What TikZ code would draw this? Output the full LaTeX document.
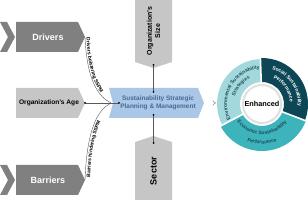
\documentclass[tikz,border=0pt]{standalone}
\usepackage{fontspec}
\setmainfont{Liberation Sans}
\usetikzlibrary{decorations.text,arrows.meta}
\definecolor{dgray}{HTML}{808080}
\definecolor{lgray}{HTML}{C6C6C6}
\definecolor{bfill}{HTML}{ABC7E8}
\definecolor{btext}{HTML}{4A6A94}
\definecolor{tlight}{HTML}{A3D8DD}
\definecolor{tdark}{HTML}{0D4755}
\definecolor{tmed}{HTML}{3DB3BB}
\definecolor{ttext}{HTML}{1F4E5A}
\begin{document}
\begin{tikzpicture}[x=1pt,y=-1pt,
  conn/.style={draw=black!65,line width=0.4pt},
  dotc/.style={fill=black},
  whitelbl/.style={text=white,font=\fontsize{9}{10}\selectfont\bfseries},
  agelbl/.style={text=black,font=\fontsize{6.6}{7.5}\selectfont\bfseries},
  vlbl/.style={text=black,rotate=90,align=center},
  bluelbl/.style={text=btext,align=center,font=\fontsize{6.5}{7.7}\selectfont\bfseries},
  gap/.style={white,line width=1.6pt},
  ]
\useasboundingbox (0,0) rectangle (308,200);
% ---------- Drivers
\fill[dgray] (0,22) -- (7,22) -- (15,37) -- (7,52) -- (0,52) -- (8,37) -- cycle;
\fill[dgray] (16,22) -- (78,22) -- (85,37) -- (78,52) -- (16,52) -- cycle;
\node[whitelbl] (drivers) at (48,37) {Drivers};
\coordinate (drvtip) at (85,37);
% ---------- Barriers
\fill[dgray] (0,165) -- (7,165) -- (15,180) -- (7,195) -- (0,195) -- (8,180) -- cycle;
\fill[dgray] (16,165) -- (78,165) -- (85,180) -- (78,195) -- (16,195) -- cycle;
\node[whitelbl] (barriers) at (48,180) {Barriers};
\coordinate (bartip) at (85,180);
% ---------- Organization's Age
\fill[lgray] (16,88) -- (78,88) -- (85,103) -- (78,118) -- (16,118) -- cycle;
\node[agelbl] (age) at (49,103) {Organization's Age};
\coordinate (agedot) at (85,103);
% ---------- Size
\fill[lgray] (135,-1) -- (172,-1) -- (172,62) -- (153.5,68) -- (135,62) -- cycle;
\node[vlbl,font=\fontsize{7}{8.2}\selectfont\bfseries] (size) at (153.5,31) {Organization's\\Size};
\coordinate (sizedot) at (153.5,65);
% ---------- Sector
\fill[lgray] (135,201) -- (135,142) -- (153.5,136) -- (172,142) -- (172,201) -- cycle;
\node[vlbl,font=\fontsize{9}{10}\selectfont\bfseries] (sector) at (153.5,171) {Sector};
\coordinate (sectordot) at (153.5,143);
% ---------- Blue box
\fill[bfill] (109,88) -- (198,88) -- (204,103) -- (198,118) -- (109,118) -- (113,103) -- cycle;
\node[bluelbl] (sspm) at (158,103) {Sustainability Strategic\\Planning \& Management};
\coordinate (meet) at (111,103);
\coordinate (bleft) at (119,103);
\coordinate (btop) at (153.5,92);
\coordinate (bbot) at (153.5,115);
\coordinate (arrs) at (205,103);
\coordinate (arre) at (216,103);
% ---------- connectors
\draw[conn] (agedot) -- (bleft);
\draw[conn] (sizedot) -- (btop);
\draw[conn] (bbot) -- (sectordot);
\draw[conn] (drvtip) .. controls (87,82) and (99,97) .. (meet);
\draw[conn] (bartip) .. controls (87,126) and (99,109) .. (meet);
\path[decorate,decoration={text along path,text align={align=left,left indent=1pt},raise=1.5pt,
  text={|\fontsize{5}{5}\selectfont\bfseries|Drivers bolstering SSPM}}]
  (drvtip) .. controls (87,82) and (99,97) .. (meet);
\path[decorate,decoration={text along path,text align={align=left,left indent=3pt},raise=-5pt,
  text={|\fontsize{5}{5}\selectfont\bfseries|Barriers hindering SSPM}}]
  (bartip) .. controls (87,126) and (99,109) .. (meet);
\foreach \p in {agedot,bleft,sizedot,btop,bbot,sectordot}
  \fill[dotc] (\p) circle[radius=1pt];
\draw[black!45,double,double distance=1.3pt,line width=0.5pt,-{Implies}] (arrs) -- (arre);
% ---------- Ring
\begin{scope}[shift={(262,104)},y=1pt]
  \fill[tlight] (92:45) arc[start angle=92,end angle=208,radius=45] -- (208:22) arc[start angle=208,end angle=92,radius=22] -- cycle;
  \fill[tdark] (-21:46) arc[start angle=-21,end angle=92,radius=46] -- (92:22) arc[start angle=92,end angle=-21,radius=22] -- cycle;
  \fill[tmed] (208:47) arc[start angle=208,end angle=339,radius=47] -- (339:22) arc[start angle=339,end angle=208,radius=22] -- cycle;
  \draw[gap] (92:19) -- (92:50);
  \draw[gap] (208:19) -- (208:50);
  \draw[gap] (-21:19) -- (-21:50);
  \draw[fill=white,draw=black!12,line width=2pt] (0,0) circle[radius=19];
  \node[font=\fontsize{7.3}{8}\selectfont\bfseries] (enh) at (0,0) {Enhanced};
  % light segment text
  \path[decorate,decoration={text along path,text align=center,text color=ttext,
    text={|\fontsize{5}{5}\selectfont\bfseries|Environmental Sustainability}}]
    (220:35) arc[start angle=220,end angle=80,radius=35];
  \path[decorate,decoration={text along path,text align=center,text color=ttext,
    text={|\fontsize{5}{5}\selectfont\bfseries|Strategies}}]
    (200:28) arc[start angle=200,end angle=80,radius=28];
  % dark segment text
  \path[decorate,decoration={text along path,text align=center,text color=white,
    text={|\fontsize{5}{5}\selectfont\bfseries|Social Sustainability}}]
    (95:36) arc[start angle=95,end angle=-25,radius=36];
  \path[decorate,decoration={text along path,text align=center,text color=white,
    text={|\fontsize{5}{5}\selectfont\bfseries|Performance}}]
    (95:28) arc[start angle=95,end angle=-25,radius=28];
  % medium segment text
  \path[decorate,decoration={text along path,text align=center,text color=ttext,
    text={|\fontsize{5}{5}\selectfont\bfseries|Economic Sustainability}}]
    (195:30.5) arc[start angle=195,end angle=345,radius=30.5];
  \path[decorate,decoration={text along path,text align=center,text color=ttext,
    text={|\fontsize{5}{5}\selectfont\bfseries|Performance}}]
    (205:40) arc[start angle=205,end angle=335,radius=40];
\end{scope}
\end{tikzpicture}
\end{document}
